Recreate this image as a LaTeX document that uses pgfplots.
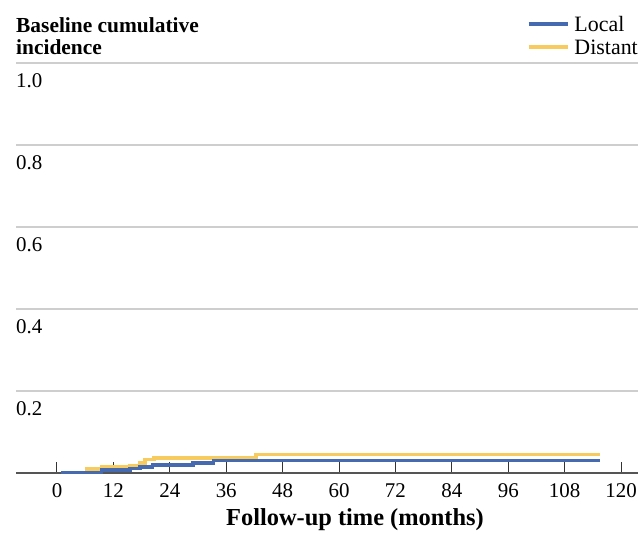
\documentclass[border=0pt]{standalone}
\usepackage{fontspec}
\setmainfont{Liberation Serif}
\usepackage{pgfplots}
\pgfplotsset{compat=1.18}
\definecolor{cblue}{RGB}{70,106,176}
\definecolor{cyell}{RGB}{248,203,95}
\definecolor{cgrid}{RGB}{206,206,206}
\definecolor{caxis}{RGB}{85,85,85}
\begin{document}
\begin{tikzpicture}
\path[use as bounding box] (-16bp,-62bp) rectangle (622bp,473bp);
\begin{axis}[
  scale only axis,
  width=622bp, height=410bp,
  xmin=-8.72, xmax=123.6,
  ymin=0, ymax=1,
  axis x line*=bottom,
  axis y line*=left,
  x axis line style={draw=caxis, line width=1.3bp},
  y axis line style={draw=none},
  xtick={0,12,...,120},
  ytick={0.2,0.4,0.6,0.8,1.0},
  yticklabels={0.2,0.4,0.6,0.8,1.0},
  tick align=inside,
  major tick length=11bp,
  xtick style={draw=black!80, line width=1bp},
  ytick style={draw=none},
  ymajorgrids,
  grid style={draw=cgrid, line width=1.3bp},
  /pgf/number format/assume math mode=true,
  xticklabel style={font=\fontsize{21}{22}\selectfont, anchor=north, inner sep=0pt, yshift=-10bp},
  yticklabel style={font=\fontsize{21}{22}\selectfont, anchor=north west, inner sep=0pt, yshift=-10bp},
  ylabel={Baseline cumulative\\incidence},
  every axis y label/.style={at={(rel axis cs:0,1)}, anchor=south west, align=left, inner sep=0pt, yshift=8bp, font=\bfseries\fontsize{21.5}{22}\selectfont},
  xlabel={Follow-up time (months)},
  every axis x label/.style={at={(rel axis cs:0.545,0)}, anchor=center, yshift=-47bp, font=\bfseries\fontsize{24.5}{26}\selectfont},
  legend style={at={(rel axis cs:1,1)}, anchor=south east, draw=none, fill=none, inner sep=0pt, yshift=1bp,
    font=\fontsize{22}{23}\selectfont, row sep=0pt, column sep=5bp,
    nodes={inner sep=0pt, text height=16bp, text depth=7bp}, cells={anchor=west}},
  legend image code/.code={\draw[#1, line width=3.5bp] (0bp,3.5bp) -- (39bp,3.5bp);},
  reverse legend,
  clip=false,
]
\addplot[const plot, color=cyell, line width=3.6bp] coordinates {
 (6.0,0.0098) (9.5,0.014) (15.4,0.018) (17.7,0.025) (18.7,0.033) (20.6,0.036) (42.3,0.045) (115.5,0.045)
};
\addlegendentry{Distant}
\addplot[const plot, color=cblue, line width=3.6bp] coordinates {
 (0.85,0.001) (9.5,0.007) (15.5,0.011) (17.7,0.015) (20.3,0.019) (28.9,0.025) (33.3,0.0305) (115.5,0.0305)
};
\addlegendentry{Local}
\end{axis}
\end{tikzpicture}
\end{document}
